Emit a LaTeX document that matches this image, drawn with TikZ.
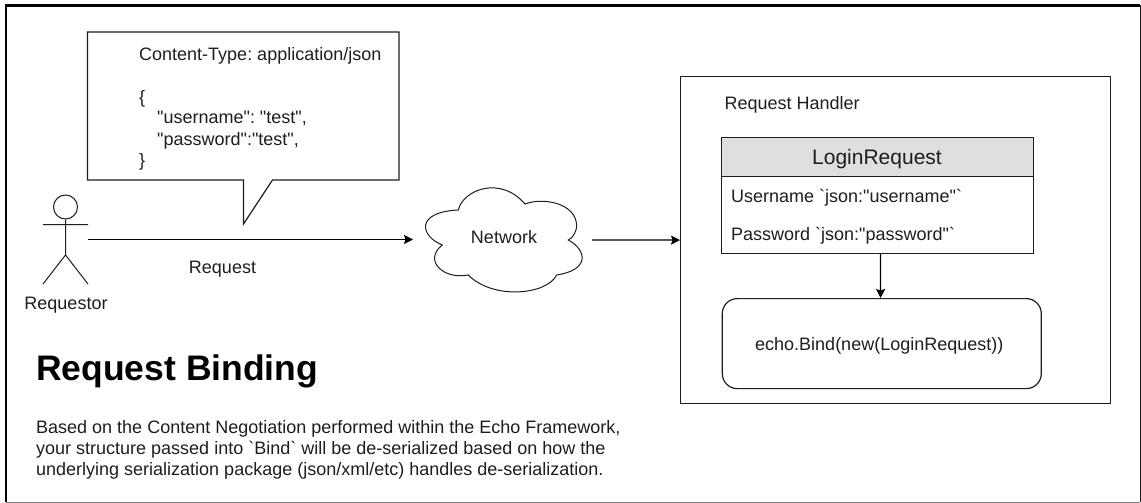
\documentclass[tikz,border=0pt]{standalone}
\usepackage{fontspec}
\newfontfamily\lib{Liberation Sans}
\usetikzlibrary{arrows.meta,calc}
\definecolor{ink}{HTML}{1E1E1E}
\definecolor{headgray}{HTML}{DFDFDF}
\tikzset{
  every node/.style={text=ink},
  line/.style={draw=ink,line width=1.2pt},
  txt/.style={anchor=base west,inner sep=0pt,font=\lib\fontsize{18}{21}\selectfont\frenchspacing},
  ctxt/.style={anchor=base,inner sep=0pt,font=\lib\fontsize{18}{21}\selectfont\frenchspacing},
  conn/.style={draw=black,line width=1.2pt,-{Stealth[length=9pt,width=9pt,inset=1.5pt]}},
  boxn/.style={line,anchor=north west,inner sep=0pt},
}
\begin{document}
\begin{tikzpicture}[x=1pt,y=-1pt]
\useasboundingbox (0,0) rectangle (1141,503);
\fill[white] (0,0) rectangle (1141,503);
% frame
\draw[black,line width=2.6pt] (6,502) -- (6,5.5) -- (1140,5.5);
\draw[ink,line width=1.5pt] (1140.3,5.5) -- (1140.3,502);
\draw[gray,line width=1.5pt] (6,502.3) -- (1140.3,502.3);
% actor
\node[draw=ink,circle,line width=1pt,minimum size=24pt,inner sep=0pt] (head) at (65.5,207) {};
\coordinate (hip) at (65.5,255);
\coordinate (armL) at (43,224.5);
\coordinate (armR) at (88,224.5);
\coordinate (footL) at (43,284);
\coordinate (footR) at (88,284);
\draw[ink,line width=1pt] (head.south) -- (hip) (armL) -- (armR) (footL) -- (hip) -- (footR);
\node[ctxt] (requestor) at (66,309) {Requestor};
% callout
\draw[line,line join=miter] (87.5,32) -- (399,32) -- (399,180) -- (272.5,180) -- (243.5,224) -- (243.5,180) -- (87.5,180) -- cycle;
\node[txt] (ct) at (139,61) {Content-Type: application/json};
\node[txt] (bo) at (139,103) {\{};
\node[txt] (us) at (157,124) {"username": "test",};
\node[txt] (pa) at (157,145) {"password":"test",};
\node[txt] (bc) at (139,166) {\}};
% request arrow
\coordinate (reqStart) at (88,239.5);
\coordinate (netIn) at (413,239.5);
\coordinate (netOut) at (592,240);
\draw[conn] (reqStart) -- (netIn);
\node[ctxt] (reqlabel) at (222.5,273) {Request};
% cloud
\draw[line,fill=white,line width=1pt] (442.3,245)
  .. controls (420,236) and (415,212) .. (458.3,210)
  .. controls (463,190) and (500,175) .. (525,204)
  .. controls (543,197) and (577,203) .. (576.7,226.7)
  .. controls (576,232) and (573,238) .. (568.3,240)
  .. controls (587,250) and (590,270) .. (556.7,275)
  .. controls (546.7,295) and (493,300) .. (468.3,275)
  .. controls (443,280) and (423,260) .. (442.3,245) -- cycle;
\node[ctxt] (network) at (504,243) {Network};
% handler
\node[boxn,minimum width=430pt,minimum height=327pt] (handler) at (680,76) {};
\node[txt] (hlabel) at (724.5,110) {Request Handler};
\node[boxn,fill=headgray,minimum width=312.5pt,minimum height=39pt] (login) at (720.7,137) {};
\node[ctxt,font=\lib\fontsize{21}{24}\selectfont] (logint) at (877,164) {LoginRequest};
\node[boxn,minimum width=312.5pt,minimum height=77pt] (fields) at (720.7,176) {};
\node[txt] (uf) at (731,202) {Username `json:"username"`};
\node[txt] (pf) at (731,240) {Password `json:"password"`};
\node[boxn,rounded corners=15pt,minimum width=319pt,minimum height=90pt] (echo) at (721.7,298) {};
\node[txt] (bind) at (755,350) {echo.Bind(new(LoginRequest))};
\draw[conn] ([xshift=3pt]fields.south) -- ([xshift=-1.2pt]echo.north);
\draw[conn] (netOut) -- (handler.west);
% text
\node[txt,text=black,font=\lib\fontsize{35.5}{40}\selectfont\bfseries] (title) at (36,380) {Request Binding};
\node[txt] (l1) at (36,433) {Based on the Content Negotiation performed within the Echo Framework,};
\node[txt] (l2) at (36,454) {your structure passed into `Bind` will be de-serialized based on how the};
\node[txt] (l3) at (36,475) {underlying serialization package (json/xml/etc) handles de-serialization.};
\end{tikzpicture}
\end{document}
